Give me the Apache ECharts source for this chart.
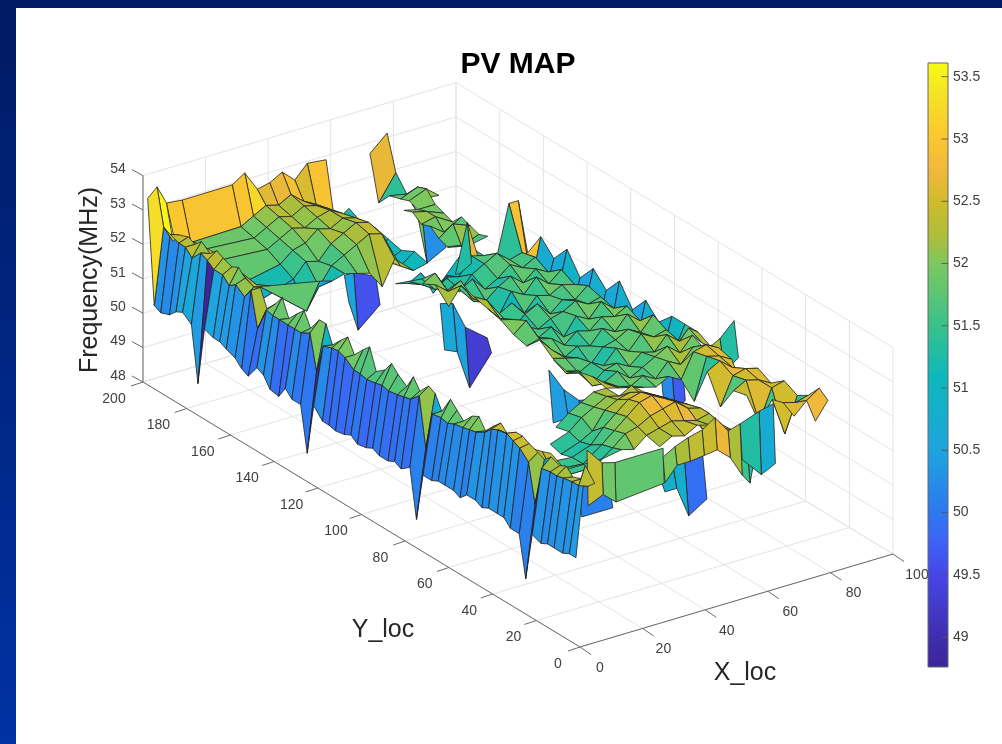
<!DOCTYPE html>
<html>
<head>
<meta charset="utf-8">
<title>PV MAP</title>
<script src="https://cdn.jsdelivr.net/npm/echarts@6/dist/echarts.min.js"></script>
<style>
html, body { margin: 0; padding: 0; }
#main { width: 1002px; height: 744px; }
</style>
</head>
<body>
<div id="main"></div>
<script>
// axis ticks
var xTicks = [0, 20, 40, 60, 80, 100];
var yTicks = [0, 20, 40, 60, 80, 100, 120, 140, 160, 180, 200];
var zTicks = [48, 49, 50, 51, 52, 53, 54];
var barTicks = [49, 49.5, 50, 50.5, 51, 51.5, 52, 52.5, 53, 53.5];
var barRange = [48.76, 53.61];

// front strip, along y at small x
var frontX = [1.5, 4.5, 7.5];
var frontY = [200,197,194,190,187,184,180,177,174,170,167,164,160,157,154,150,147,144,140,137,134,130,127,124,120,117,114,110,107,104,100,97,94,90,87,84,80,77,74,70,67,64,60,57,54,50,47,44,40,37,34,30,27,24,20,17,14,10,7,4];
var frontLow = [53.3,50.3,50.2,50.3,50.5,50.6,50.4,48.8,50.5,50.4,50.4,50.3,50.2,50.0,49.9,50.3,50.2,49.9,49.85,50.2,50.0,50.0,48.7,50.2,49.9,49.9,49.85,49.9,50.0,49.85,49.9,50.0,49.9,49.9,50.0,49.9,50.1,48.7,50.1,50.1,50.2,50.2,50.2,50.1,50.3,50.3,50.2,50.3,50.3,50.3,50.1,50.1,48.9,50.3,50.2,50.3,50.3,50.3,50.4,50.4];
var frontMid = [53.55,52.5,52.4,52.3,52.3,52.1,52.4,52.3,52.15,52.15,51.95,52.1,51.9,52.2,51.2,51.9,51.85,51.85,51.85,51.85,51.85,52.0,51.0,51.85,51.95,51.98,51.9,51.7,51.7,51.65,51.7,51.75,51.7,51.75,51.8,51.85,52.1,50.7,51.8,51.85,51.8,51.9,51.95,52.0,52.05,52.2,52.4,52.5,52.55,52.45,52.35,52.1,51.0,52.15,52.2,52.2,52.25,52.3,52.3,53.0];
var frontTop = [53.0,52.0,52.3,52.4,52.3,52.5,52.3,52.5,52.4,52.3,52.4,52.2,52.1,52.2,51.7,52.0,52.3,51.8,52.1,52.3,51.9,52.3,52.3,51.8,52.1,52.3,51.9,52.2,52.4,51.8,52.0,52.3,52.1,51.9,52.3,52.0,52.3,52.2,51.8,52.3,52.1,51.9,52.2,52.3,52.0,52.3,52.5,52.3,52.5,52.5,52.4,52.3,52.2,52.4,52.3,52.4,52.2,52.3,52.2,52.4];

// back left block, y close to 200
var blockX = [7.5,12.5,28.5,32.5,36.5,40.5,44.5,48.5,52.5,58.5,63];
var blockY = [200,196,190,184,178,172,166,160];
var blockZ = [
    [53.0,52.95,52.96,53.2,52.62,52.7,52.9,52.56,52.94,52.88,null],
    [52.0,51.87,51.9,52.1,52.3,52.2,52.4,52.1,51.9,51.2,51.5],
    [52.3,51.9,51.8,52.0,52.2,52.1,52.3,52.2,52.0,51.0,51.3],
    [52.4,51.8,51.7,51.9,52.1,52.0,52.2,52.3,52.1,51.2,51.4],
    [52.4,51.2,51.5,51.8,51.9,52.2,52.1,52.3,52.2,51.1,51.3],
    [52.3,50.8,51.3,51.7,51.6,52.0,52.2,52.4,52.3,51.0,51.2],
    [52.3,51.8,50.6,51.2,51.7,51.9,52.1,52.3,52.2,51.1,51.4],
    [52.1,52.0,51.7,51.6,51.7,51.6,51.5,51.0,51.7,51.2,51.3]
];

// thin far strip, y from 200 to 154
var farTopX = [68,72.5,78,82];
var farTopY = [200,196,191,186,182,178,174,170,166,162,158,154];
var farTopZ = [
    [null,52.68,53.13,null],
    [null,51.4,52.13,null],
    [null,51.8,51.7,51.3],
    [null,51.9,52.1,51.7],
    [null,52.0,52.2,51.9],
    [52.0,51.9,51.9,null],
    [52.1,52.0,51.8,null],
    [51.9,52.0,51.7,null],
    [52.0,51.7,52.0,null],
    [51.8,52.1,51.9,null],
    [51.7,51.6,51.8,null],
    [51.9,51.8,51.9,null]
];

// middle block
var midX = [46,50,54,58,62,66,70,74,78,82,85,88];
var midY = [156,150,144,138,132,126,120,114,108,102,96,90,84,78,72,66,60,54];
var midZ = [
    [null,51.2,51.1,51.3,50.6,51.0,51.4,51.6,null,null,null,null],
    [null,51.5,51.3,51.1,51.3,51.2,51.7,51.6,51.4,52.9,52.9,51.3],
    [null,51.8,51.4,51.6,51.1,51.5,51.7,51.9,51.6,51.7,50.7,52.0],
    [52.0,52.2,51.6,51.5,51.7,51.3,51.5,51.8,51.6,51.8,50.6,51.6],
    [52.2,51.9,52.1,51.4,51.3,51.6,51.8,51.5,51.8,51.6,50.9,52.1],
    [51.8,52.3,51.8,51.6,51.1,51.7,51.5,51.9,51.6,51.9,50.5,51.5],
    [null,52.2,52.0,51.5,51.7,51.3,51.7,51.6,51.8,51.7,50.8,52.0],
    [null,52.1,51.7,51.3,51.6,51.8,51.4,51.7,51.6,51.9,50.6,51.6],
    [null,52.0,51.9,51.6,51.4,51.6,51.7,51.9,51.7,51.8,50.7,52.1],
    [null,51.8,52.1,51.5,51.7,51.3,51.8,51.6,52.0,51.7,50.5,51.5],
    [null,51.7,51.8,51.7,51.4,51.7,51.6,51.9,51.8,52.0,50.8,52.0],
    [null,52.1,51.7,51.4,51.6,51.5,51.9,51.7,52.1,51.8,50.9,51.6],
    [null,51.8,51.7,51.6,51.3,51.7,51.8,52.0,51.8,52.2,51.0,52.0],
    [52.1,51.6,51.5,51.7,51.5,51.9,51.7,52.1,51.9,52.0,51.4,52.0],
    [52.0,51.9,51.4,51.7,51.8,51.6,51.9,51.8,52.2,51.9,52.2,52.0],
    [52.2,51.7,51.7,51.9,51.6,51.8,52.0,52.2,51.9,52.3,52.0,51.8],
    [52.3,52.0,51.8,51.7,51.9,51.7,52.1,51.9,52.3,52.1,null,null],
    [52.2,52.1,52.0,51.9,51.8,52.0,51.8,52.2,null,null,null,null]
];

// bottom block
var lowX = [7.5,12,24,30,34,38,42,46,50,54,58,62,66];
var lowY = [54,48,43,38,33,28,24,18];
var lowZ = [
    [null,null,null,51.5,51.8,52.0,52.2,52.2,null,null,null,null,null],
    [null,null,51.4,51.6,51.9,52.1,52.3,52.2,52.4,52.1,51.9,null,null],
    [null,null,51.3,51.5,51.7,52.2,52.4,52.5,52.3,52.2,52.0,null,null],
    [52.2,51.5,51.4,51.6,52.0,52.3,52.6,52.7,52.5,52.3,52.1,51.6,null],
    [52.3,51.5,51.4,51.8,52.1,52.4,52.7,52.8,52.6,52.4,52.2,51.4,null],
    [52.4,51.5,51.5,51.9,52.2,52.3,52.5,52.6,52.7,52.4,52.3,51.6,51.3],
    [52.5,51.9,51.9,52.0,51.9,52.2,52.3,52.4,52.3,52.2,52.3,51.8,51.5],
    [null,null,null,null,null,52.1,52.3,52.2,52.4,52.3,52.2,51.9,51.7]
];

// far end strip
var endX = [70,74,78,82];
var endY = [60,54,48,42,36,30,24,18,13,8,4];
var endZ = [
    [52.1,51.9,52.3,52.1],
    [51.8,52.5,52.6,52.4],
    [51.4,52.6,52.5,52.3],
    [52.5,52.7,52.4,51.5],
    [51.7,52.5,52.6,52.5],
    [52.4,52.6,52.5,52.3],
    [52.5,51.6,52.5,52.6],
    [null,52.5,51.4,52.4],
    [null,52.6,52.5,52.6],
    [null,52.4,52.75,53.0],
    [null,null,52.3,52.8]
];

// front flaps of the bottom block
var wallWestX = [17.6,22.4,26.5,41.9];
var wallWestY = [22,21.5];
var wallWestZ = [[52.4,51.9,51.8,51.8],[50.8,51.0,50.67,50.8]];
var wallEastX = [36.3,40.1,44.3,48.8,52.9,57.1,60.9];
var wallEastY = [14,13];
var wallEastZ = [[52.0,52.2,52.35,52.45,52.7,52.2,52.3],[51.3,51.7,51.7,51.75,51.8,51.46,50.85]];
var tailX = [60.9,67,71.5];
var tailY = [13,14];
var tailZ = [[51.3,50.7,50.9],[52.3,52.5,52.6]];
var tipX = [60.9,63.4,65];
var tipY = [14,13];
var tipZ = [[51.5,51.3,51.5],[50.85,50.55,51.3]];
var lowBlueX = [20.8,30.7];
var lowBlueY = [29,31];
var lowBlueZ = [[50.1,50.1],[51.0,51.0]];

// deep rows that hang down at the cross streets, lower row first
var pitAX = [42,45,52];
var pitAY = [166,168];
var pitAZ = [[50.5,49.6,50.15],[51.2,51.2,50.9]];
var pitBX = [44,48,52,59];
var pitBY = [125,127];
var pitBZ = [[50.63,50.47,49.31,50.14],[51.9,51.8,51.0,50.5]];
var pitCX = [43.8,48.6,53.4,56.5];
var pitCY = [75,77];
var pitCZ = [[50.44,50.45,49.9,50.4],[51.9,51.2,50.76,50.7]];
var pitDX = [39,42.8,46.6,52.4];
var pitDY = [17,19];
var pitDZ = [[50.8,50.8,49.9,50.23],[51.1,51.45,51.5,51.5]];
var pitEX = [79,82.7,86];
var pitEY = [75,77];
var pitEZ = [[50.2,49.7,49.96],[51.4,51.4,51.4]];
var pitFX = [72,75.4,81.5];
var pitFY = [178,180];
var pitFZ = [[51.9,50.27,50.56],[52.0,51.4,51.07]];
var flagX = [84,88,92.5];
var flagY = [60,62];
var flagZ = [[52.2,51.3,51.6],[52.0,52.2,52.6]];
var spikeX = [64.9,68.7,72.2];
var spikeY = [150,148];
var spikeZ = [[51.3,52.7,51.6],[51.4,51.6,51.6]];

var patches = [
    {x: frontX, y: frontY, z: frontY.map(function (v, j) { return [frontLow[j], frontMid[j], frontTop[j]]; })},
    {x: blockX, y: blockY, z: blockZ},
    {x: farTopX, y: farTopY, z: farTopZ},
    {x: midX, y: midY, z: midZ},
    {x: lowX, y: lowY, z: lowZ},
    {x: endX, y: endY, z: endZ},
    {x: wallWestX, y: wallWestY, z: wallWestZ},
    {x: wallEastX, y: wallEastY, z: wallEastZ},
    {x: tailX, y: tailY, z: tailZ},
    {x: tipX, y: tipY, z: tipZ},
    {x: lowBlueX, y: lowBlueY, z: lowBlueZ},
    {x: pitAX, y: pitAY, z: pitAZ},
    {x: pitBX, y: pitBY, z: pitBZ},
    {x: pitCX, y: pitCY, z: pitCZ},
    {x: pitDX, y: pitDY, z: pitDZ},
    {x: pitEX, y: pitEY, z: pitEZ},
    {x: pitFX, y: pitFY, z: pitFZ},
    {x: flagX, y: flagY, z: flagZ},
    {x: spikeX, y: spikeY, z: spikeZ}
];

// colour map
var mapStops = [
    [0, '#3c239c'], [0.05, '#3f2fae'], [0.1526, '#4646e8'], [0.214, '#3c66f7'], [0.2557, '#2d78f0'],
    [0.359, '#1ea4de'], [0.4825, '#0db8ba'], [0.565, '#38c28c'], [0.668, '#7dc85e'],
    [0.71, '#acbe3a'], [0.77, '#cfbc2c'], [0.82, '#f0b83c'], [0.876, '#fbc72e'],
    [0.95, '#f5e326'], [1, '#f8fc12']
];

function colorOf(z) {
    var t = (z - barRange[0]) / (barRange[1] - barRange[0]);
    t = Math.max(0, Math.min(1, t));
    for (var i = 1; i < mapStops.length; i++) {
        if (t <= mapStops[i][0]) {
            var a = mapStops[i - 1], b = mapStops[i];
            return echarts.color.lerp((t - a[0]) / (b[0] - a[0]), [a[1], b[1]]);
        }
    }
    return mapStops[mapStops.length - 1][1];
}

// view of the 3D box on the page
function project(x, y, z) {
    return [580 + 3.13 * x - 2.185 * y, 647 - 0.93 * x - 1.325 * y - 34.4 * (z - 48)];
}

function depth(x, y, z) {
    return 1.98 * x + 2.83 * y - 16.1 * z;
}

function buildQuads() {
    var quads = [];
    patches.forEach(function (p) {
        for (var j = 0; j < p.y.length - 1; j++) {
            for (var i = 0; i < p.x.length - 1; i++) {
                var a = p.z[j][i], b = p.z[j][i + 1], c = p.z[j + 1][i + 1], d = p.z[j + 1][i];
                if (a == null || b == null || c == null || d == null) {
                    continue;
                }
                quads.push({
                    pts: [
                        project(p.x[i], p.y[j], a),
                        project(p.x[i + 1], p.y[j], b),
                        project(p.x[i + 1], p.y[j + 1], c),
                        project(p.x[i], p.y[j + 1], d)
                    ],
                    color: colorOf(a),
                    d: depth((p.x[i] + p.x[i + 1]) / 2, (p.y[j] + p.y[j + 1]) / 2, (a + b + c + d) / 4)
                });
            }
        }
    });
    quads.sort(function (m, n) { return n.d - m.d; });
    return quads;
}

function buildLines() {
    var segs = [];
    var grey = '#e4e4e4', dark = '#6a6a6a';
    function seg(p, q, color) { segs.push({p: p, q: q, color: color}); }
    xTicks.forEach(function (x) {
        seg(project(x, 0, 48), project(x, 200, 48), grey);
        seg(project(x, 200, 48), project(x, 200, 54), grey);
    });
    yTicks.forEach(function (y) {
        seg(project(0, y, 48), project(100, y, 48), grey);
        seg(project(100, y, 48), project(100, y, 54), grey);
    });
    zTicks.forEach(function (z) {
        seg(project(0, 200, z), project(100, 200, z), grey);
        seg(project(100, 200, z), project(100, 0, z), grey);
    });
    seg(project(0, 0, 48), project(100, 0, 48), dark);
    seg(project(0, 0, 48), project(0, 200, 48), dark);
    seg(project(0, 200, 48), project(0, 200, 54), dark);
    xTicks.forEach(function (x) {
        var p = project(x, 0, 48);
        seg(p, [p[0] + 11, p[1] + 7.5], dark);
    });
    yTicks.forEach(function (y) {
        var p = project(0, y, 48);
        seg(p, [p[0] - 12, p[1] + 4], dark);
    });
    zTicks.forEach(function (z) {
        var p = project(0, 200, z);
        seg(p, [p[0] - 11, p[1] - 6], dark);
    });
    return segs;
}

function buildLabels() {
    var labels = [];
    xTicks.forEach(function (x) {
        var p = project(x, 0, 48);
        labels.push({text: String(x), x: p[0] + 20 + x * 0.04, y: p[1] + 21});
    });
    yTicks.forEach(function (y) {
        var p = project(0, y, 48);
        labels.push({text: String(y), x: p[0] - 22 - y * 0.035, y: p[1] + 17});
    });
    zTicks.forEach(function (z) {
        var p = project(0, 200, z);
        labels.push({text: String(z), x: p[0] - 25, y: p[1] - 6});
    });
    return labels;
}

var quads = buildQuads();
var lines = buildLines();
var labels = buildLabels();
var fontName = '"Liberation Sans", Arial, sans-serif';

var chart = echarts.init(document.getElementById('main'));
chart.setOption({
    animation: false,
    backgroundColor: new echarts.graphic.LinearGradient(0, 0, 0, 1, [
        {offset: 0, color: '#001a63'},
        {offset: 1, color: '#0032a4'}
    ]),
    title: {
        text: 'PV MAP',
        left: 513,
        top: 45,
        textAlign: 'center',
        textStyle: {fontFamily: fontName, fontSize: 30, fontWeight: 'bold', color: '#000'}
    },
    graphic: [
        {type: 'rect', z: -100, shape: {x: 16, y: 8, width: 986, height: 736}, style: {fill: '#fff'}},
        {type: 'text', z: 10, x: 90, y: 280, rotation: Math.PI / 2,
            style: {text: 'Frequency(MHz)', textAlign: 'center', textVerticalAlign: 'middle', font: '25px ' + fontName, fill: '#262626'}},
        {type: 'text', z: 10, x: 383, y: 630,
            style: {text: 'Y_loc', textAlign: 'center', textVerticalAlign: 'middle', font: '25px ' + fontName, fill: '#262626'}},
        {type: 'text', z: 10, x: 745, y: 673,
            style: {text: 'X_loc', textAlign: 'center', textVerticalAlign: 'middle', font: '25px ' + fontName, fill: '#262626'}}
    ],
    grid: [
        {left: 0, top: 0, width: 1002, height: 744},
        {left: 928, top: 63, width: 20, height: 604}
    ],
    xAxis: [
        {type: 'value', min: 0, max: 1002, show: false},
        {type: 'value', gridIndex: 1, min: 0, max: 1, show: false}
    ],
    yAxis: [
        {type: 'value', min: 0, max: 744, inverse: true, show: false},
        {
            type: 'value',
            gridIndex: 1,
            position: 'right',
            min: barRange[0],
            max: barRange[1],
            z: 5,
            splitLine: {show: false},
            axisLine: {show: false},
            axisTick: {show: false},
            axisLabel: {show: true, customValues: barTicks, margin: 5, color: '#404040', fontSize: 14, fontFamily: fontName}
        }
    ],
    series: [
        {
            type: 'custom',
            name: 'box',
            z: 1,
            silent: true,
            clip: false,
            data: lines.map(function (l, i) { return i; }),
            renderItem: function (params, api) {
                var l = lines[params.dataIndex];
                var p = api.coord(l.p), q = api.coord(l.q);
                return {
                    type: 'line',
                    shape: {x1: p[0], y1: p[1], x2: q[0], y2: q[1]},
                    style: {stroke: l.color, lineWidth: 1}
                };
            }
        },
        {
            type: 'custom',
            name: 'ticks',
            z: 1,
            silent: true,
            clip: false,
            data: labels.map(function (l, i) { return i; }),
            renderItem: function (params, api) {
                var l = labels[params.dataIndex];
                var p = api.coord([l.x, l.y]);
                return {
                    type: 'text',
                    x: p[0],
                    y: p[1],
                    style: {text: l.text, textAlign: 'center', textVerticalAlign: 'middle', font: '14px ' + fontName, fill: '#404040'}
                };
            }
        },
        {
            type: 'custom',
            name: 'Frequency',
            z: 2,
            silent: true,
            clip: false,
            progressive: 0,
            data: quads.map(function (q, i) { return i; }),
            renderItem: function (params, api) {
                var q = quads[params.dataIndex];
                return {
                    type: 'polygon',
                    shape: {points: q.pts.map(function (p) { return api.coord(p); })},
                    style: {fill: q.color, stroke: '#222', lineWidth: 0.8, lineJoin: 'round'}
                };
            }
        },
        {
            type: 'custom',
            name: 'colorbar',
            xAxisIndex: 1,
            yAxisIndex: 1,
            z: 3,
            silent: true,
            clip: false,
            data: [[0, barRange[1], 1, barRange[0]]],
            renderItem: function (params, api) {
                var a = api.coord([api.value(0), api.value(1)]);
                var b = api.coord([api.value(2), api.value(3)]);
                var children = [{
                    type: 'rect',
                    shape: {x: a[0], y: a[1], width: b[0] - a[0], height: b[1] - a[1]},
                    style: {
                        fill: new echarts.graphic.LinearGradient(0, 1, 0, 0, mapStops.map(function (s) {
                            return {offset: s[0], color: s[1]};
                        })),
                        stroke: '#666',
                        lineWidth: 1
                    }
                }];
                barTicks.forEach(function (t) {
                    var p = api.coord([1, t]);
                    children.push({
                        type: 'line',
                        shape: {x1: p[0] - 6.5, y1: p[1], x2: p[0], y2: p[1]},
                        style: {stroke: '#555', lineWidth: 1, opacity: 0.85}
                    });
                });
                return {type: 'group', children: children};
            }
        }
    ]
});
</script>
</body>
</html>
